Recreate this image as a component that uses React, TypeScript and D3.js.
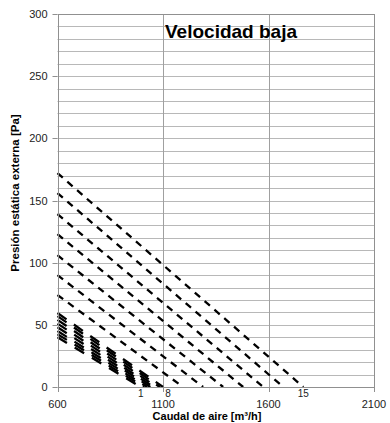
import React, { useEffect, useRef } from "react";
import * as d3 from "d3";

// curves 1..15: static pressure at 600 m3/h and flow where pressure hits 0
const curveIds = [1, 2, 3, 4, 5, 6, 7, 8, 9, 10, 11, 12, 13, 14, 15];
const startPressure = [40, 42.5, 45, 48, 51, 54, 57, 59.5, 74, 90, 106, 123, 139, 156, 172];
const endFlow = [995, 1010, 1025, 1040, 1055, 1070, 1085, 1100, 1195, 1290, 1385, 1480, 1575, 1670, 1765];
const labelledCurves = [1, 8, 15];

const xTicks = [600, 1100, 1600, 2100];
const yTicks = [0, 50, 100, 150, 200, 250, 300];
const yGrid = d3.range(0, 301, 10);

const width = 390;
const height = 423;
const margin = { top: 14, right: 16, bottom: 36, left: 57.5 };
const font = "'Liberation Sans', Arial, sans-serif";

export default function App() {
  const ref = useRef(null);

  useEffect(() => {
    const svg = d3.select(ref.current);
    svg.selectAll("*").remove();

    const x = d3
      .scaleLinear()
      .domain([600, 2100])
      .range([margin.left, width - margin.right]);
    const y = d3
      .scaleLinear()
      .domain([0, 300])
      .range([height - margin.bottom, margin.top]);

    // horizontal grid every 10 Pa
    svg
      .append("g")
      .selectAll("line")
      .data(yGrid)
      .join("line")
      .attr("x1", x(600))
      .attr("x2", x(2100))
      .attr("y1", (d) => Math.round(y(d)) + 0.5)
      .attr("y2", (d) => Math.round(y(d)) + 0.5)
      .attr("stroke", "#b8b8b8")
      .attr("stroke-width", 1);

    // vertical grid at major x ticks
    svg
      .append("g")
      .selectAll("line")
      .data(xTicks)
      .join("line")
      .attr("x1", (d) => Math.round(x(d)) + 0.5)
      .attr("x2", (d) => Math.round(x(d)) + 0.5)
      .attr("y1", y(0))
      .attr("y2", y(300))
      .attr("stroke", "#a0a0a0")
      .attr("stroke-width", 1);

    // y ticks + labels
    svg
      .append("g")
      .selectAll("line")
      .data(yTicks)
      .join("line")
      .attr("x1", x(600) - 5)
      .attr("x2", x(600))
      .attr("y1", (d) => Math.round(y(d)) + 0.5)
      .attr("y2", (d) => Math.round(y(d)) + 0.5)
      .attr("stroke", "#909090");

    svg
      .append("g")
      .selectAll("text")
      .data(yTicks)
      .join("text")
      .attr("x", x(600) - 10)
      .attr("y", (d) => y(d) + 4)
      .attr("text-anchor", "end")
      .attr("font-family", font)
      .attr("font-size", 11)
      .attr("fill", "#222")
      .text((d) => d);

    // x ticks + labels
    svg
      .append("g")
      .selectAll("line")
      .data(xTicks)
      .join("line")
      .attr("x1", (d) => Math.round(x(d)) + 0.5)
      .attr("x2", (d) => Math.round(x(d)) + 0.5)
      .attr("y1", y(0))
      .attr("y2", y(0) + 5)
      .attr("stroke", "#909090");

    svg
      .append("g")
      .selectAll("text")
      .data(xTicks)
      .join("text")
      .attr("x", (d) => x(d))
      .attr("y", y(0) + 21)
      .attr("text-anchor", "middle")
      .attr("font-family", font)
      .attr("font-size", 11)
      .attr("fill", "#222")
      .text((d) => d);

    // curves
    const line = d3
      .line<[number, number]>()
      .x((d) => x(d[0]))
      .y((d) => y(d[1]));

    svg
      .append("g")
      .selectAll("path")
      .data(curveIds.map((id, i) => ({ id, pts: [[600, startPressure[i]], [endFlow[i], 0]] as [number, number][] })))
      .join("path")
      .attr("d", (d) => line(d.pts))
      .attr("fill", "none")
      .attr("stroke", "#000")
      .attr("stroke-width", 2.3)
      // the low curves (1-8) are drawn with a longer dash in the original
      .attr("stroke-dasharray", (d) => (d.id <= 8 ? "11,9" : "7,6"));

    // curve labels at the zero-pressure end
    svg
      .append("g")
      .selectAll("text")
      .data(labelledCurves)
      .join("text")
      .attr("x", (id) => x(endFlow[id - 1]) + (id === 8 ? 5 : 0))
      .attr("y", y(0) + 10)
      .attr("text-anchor", "middle")
      .attr("font-family", font)
      .attr("font-size", 10)
      .attr("fill", "#222")
      .text((id) => id);

    // plot border
    svg
      .append("rect")
      .attr("x", Math.round(x(600)) + 0.5)
      .attr("y", Math.round(y(300)) + 0.5)
      .attr("width", Math.round(x(2100)) - Math.round(x(600)))
      .attr("height", Math.round(y(0)) - Math.round(y(300)))
      .attr("fill", "none")
      .attr("stroke", "#909090");

    // title
    svg
      .append("text")
      .attr("x", 231)
      .attr("y", 38)
      .attr("text-anchor", "middle")
      .attr("font-family", font)
      .attr("font-weight", "bold")
      .attr("font-size", 19)
      .attr("fill", "#000")
      .text("Velocidad baja");

    // axis titles
    svg
      .append("text")
      .attr("x", 207)
      .attr("y", 420)
      .attr("text-anchor", "middle")
      .attr("font-family", font)
      .attr("font-weight", "bold")
      .attr("font-size", 11)
      .attr("fill", "#000")
      .text("Caudal de aire [m³/h]");

    svg
      .append("text")
      .attr("transform", "translate(19,193) rotate(-90)")
      .attr("text-anchor", "middle")
      .attr("font-family", font)
      .attr("font-weight", "bold")
      .attr("font-size", 11.5)
      .attr("fill", "#000")
      .text("Presión estática externa [Pa]");
  }, []);

  return (
    <svg
      ref={ref}
      width={width}
      height={height}
      style={{ position: "absolute", left: 0, top: 0, background: "#fff" }}
    />
  );
}
